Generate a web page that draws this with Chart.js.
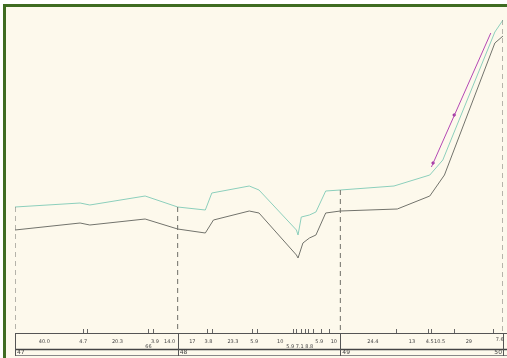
<!DOCTYPE html>
<html>
<head>
<meta charset="utf-8">
<script src="https://cdn.jsdelivr.net/npm/chart.js@4"></script>
<style>
    html, body { margin: 0; padding: 0; background: #ffffff; }
    #frame {
        position: absolute; left: 3px; top: 4px; width: 504px; height: 354px;
        border-left: 3px solid #3f6c22; border-top: 3px solid #3f6c22;
        background: #fdf9ec; box-sizing: border-box;
    }
    #wrap { position: absolute; left: 0; top: 0; width: 507px; height: 358px; }
</style>
</head>
<body>
<div id="frame"></div>
<div id="wrap"><canvas id="profileChart" width="507" height="358"></canvas></div>
<script>
// Profil - km / hauteur (unités)
const tealKm  = [47.00, 47.40, 47.46, 47.80, 48.00, 48.17, 48.21, 48.44, 48.50, 48.73, 48.74, 48.76, 48.81, 48.85, 48.91, 49.00, 49.33, 49.55, 49.63, 49.95, 50.00];
const tealVal = [126, 130, 128, 137, 126, 123, 140, 147, 143, 103, 98, 116, 118, 121, 142, 143, 147, 158, 173, 301, 313];

const grayKm  = [47.00, 47.40, 47.46, 47.80, 48.00, 48.17, 48.22, 48.44, 48.50, 48.73, 48.74, 48.77, 48.81, 48.85, 48.91, 49.00, 49.35, 49.55, 49.64, 49.95, 50.00];
const grayVal = [103, 110, 108, 114, 104, 100, 113, 122, 120, 78, 75, 90, 95, 98, 120, 122, 124, 137, 158, 290, 297];

const pinkKm  = [49.56, 49.925];
const pinkVal = [166, 300];
const pinkMarkKm  = [49.57, 49.70];
const pinkMarkVal = [170, 218];

// stations (km) et hauteur de départ des repères
const stationKm  = [47, 48, 49, 50];
const stationTop = [126, 126, 143, 313];
const stationLabels = ['47', '48', '49', '50'];

// ligne du tableau : longueurs de segments
const segKm     = [47.18, 47.42, 47.63, 47.86, 47.95, 48.09, 48.19, 48.34, 48.47, 48.63, 48.87, 48.96, 49.20, 49.44, 49.55, 49.61, 49.79, 49.98];
const segLabels = ['40.0', '4.7', '20.3', '3.9', '14.0', '17', '3.8', '23.3', '5.9', '10', '5.9', '10', '24.4', '13', '4.5', '10.5', '29', '7.6'];
const subKm     = [47.82, 48.75];
const subLabels = ['66', '5.9 7.1 8.8'];
const breakKm   = [47.42, 47.44, 47.82, 47.85, 48.18, 48.21, 48.46, 48.49, 48.71, 48.73, 48.76, 48.78, 48.80, 48.83, 48.88, 48.93, 49.34, 49.54, 49.56, 49.70, 49.94];

const toPts = (xs, ys) => xs.map((x, i) => ({ x: x, y: ys[i] }));

const stationSets = stationKm.map((km, i) => ({
    data: [{ x: km, y: stationTop[i] }, { x: km, y: 0 }],
    borderColor: '#6f6f68',
    borderWidth: 1,
    borderDash: [5, 4],
    pointRadius: 0
}));

/**
 * Dessine le tableau sous le profil
 */
const tablePlugin = {
    id: 'table',
    afterDraw(chart) {
        const ctx = chart.ctx;
        const xs = chart.scales.x;
        const left = chart.chartArea.left;
        const yTop = 333;
        ctx.save();
        ctx.strokeStyle = '#555';
        ctx.lineWidth = 1;
        ctx.beginPath();
        ctx.moveTo(left, yTop + 0.5); ctx.lineTo(507, yTop + 0.5);
        ctx.stroke();
        ctx.lineWidth = 1.5;
        ctx.strokeStyle = '#444';
        ctx.beginPath();
        ctx.moveTo(left, 349.5); ctx.lineTo(507, 349.5);
        ctx.stroke();
        ctx.lineWidth = 1;
        ctx.strokeStyle = '#888';
        ctx.beginPath();
        ctx.moveTo(left, 355.5); ctx.lineTo(507, 355.5);
        ctx.stroke();

        // repères verticaux des stations
        ctx.strokeStyle = '#555';
        stationKm.forEach(km => {
            const px = Math.round(xs.getPixelForValue(km)) + 0.5;
            ctx.beginPath();
            ctx.moveTo(px, yTop); ctx.lineTo(px, 356);
            ctx.stroke();
        });

        // petites marques des changements de pente
        ctx.strokeStyle = '#666';
        breakKm.forEach(km => {
            const px = Math.round(xs.getPixelForValue(km)) + 0.5;
            ctx.beginPath();
            ctx.moveTo(px, yTop - 4); ctx.lineTo(px, yTop);
            ctx.stroke();
        });

        ctx.fillStyle = '#444';
        ctx.font = '5px "DejaVu Sans"';
        ctx.textAlign = 'center';
        ctx.textBaseline = 'middle';
        segKm.forEach((km, i) => {
            ctx.fillText(segLabels[i], xs.getPixelForValue(km), i === segKm.length - 1 ? 340 : 342);
        });
        subKm.forEach((km, i) => {
            ctx.fillText(subLabels[i], xs.getPixelForValue(km), 347);
        });
        ctx.font = '6px "DejaVu Sans"';
        stationKm.forEach((km, i) => {
            const px = xs.getPixelForValue(km);
            const last = i === stationKm.length - 1;
            ctx.textAlign = last ? 'right' : 'left';
            ctx.fillText(stationLabels[i], last ? px - 1 : px + 2, 352.5);
        });
        ctx.restore();
    }
};

new Chart(document.getElementById('profileChart').getContext('2d'), {
    type: 'line',
    data: {
        datasets: [
            ...stationSets,
            {
                data: toPts(tealKm, tealVal),
                borderColor: '#8ccfbc',
                borderWidth: 1,
                pointRadius: 0,
                tension: 0
            },
            {
                data: toPts(grayKm, grayVal),
                borderColor: '#72736c',
                borderWidth: 1,
                pointRadius: 0,
                tension: 0
            },
            {
                data: toPts(pinkKm, pinkVal),
                borderColor: '#b448b4',
                borderWidth: 1,
                pointRadius: 0
            },
            {
                data: toPts(pinkMarkKm, pinkMarkVal),
                showLine: false,
                pointStyle: 'rectRot',
                pointRadius: 2,
                backgroundColor: '#a03aa0',
                borderColor: '#a03aa0',
                borderWidth: 0
            }
        ]
    },
    options: {
        responsive: false,
        animation: false,
        layout: { padding: { left: 15, right: 3, top: 8, bottom: 25 } },
        scales: {
            x: { type: 'linear', min: 47, max: 50, display: false },
            y: { min: 0, max: 325, display: false }
        },
        plugins: {
            legend: { display: false },
            tooltip: { enabled: false }
        }
    },
    plugins: [tablePlugin]
});
</script>
</body>
</html>
